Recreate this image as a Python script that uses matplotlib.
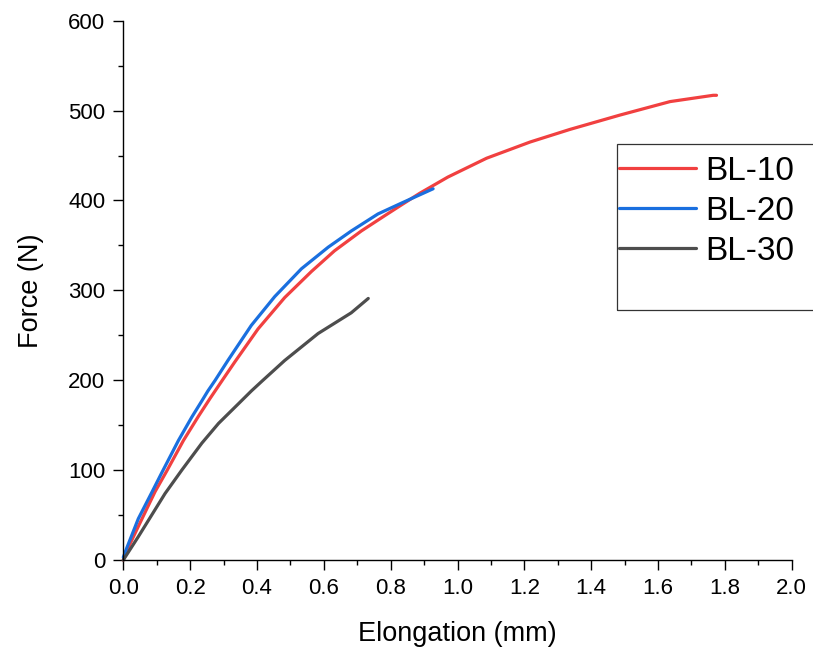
import matplotlib
matplotlib.use("Agg")
import matplotlib.pyplot as plt
from matplotlib.patches import Rectangle
from matplotlib.ticker import MultipleLocator, FormatStrFormatter

plt.rcParams['font.family'] = ['Liberation Sans', 'DejaVu Sans']

# Data
bl10_x = [0, 0.015, 0.06, 0.095, 0.13, 0.18, 0.225, 0.26, 0.30, 0.333, 0.403, 0.483,
          0.563, 0.632, 0.712, 0.782, 0.832, 0.887, 0.971, 1.087, 1.217, 1.336,
          1.486, 1.636, 1.765, 1.775]
bl10_y = [0, 14, 49, 76, 99, 133, 160, 180, 202, 220, 257, 292,
          321, 344, 366, 383, 395, 408, 426, 447, 465, 479,
          495, 510, 517, 517]

bl20_x = [0, 0.01, 0.045, 0.085, 0.115, 0.165, 0.205, 0.235, 0.253, 0.275, 0.313,
          0.383, 0.453, 0.533, 0.613, 0.682, 0.762, 0.832, 0.927]
bl20_y = [3, 13, 46, 75, 97, 133, 159, 177, 188, 200, 222,
          261, 293, 324, 348, 366, 385, 397, 413]

bl30_x = [0, 0.045, 0.085, 0.125, 0.175, 0.235, 0.285, 0.345, 0.383, 0.415, 0.483,
          0.583, 0.682, 0.733]
bl30_y = [0, 26, 50, 74, 100, 130, 152, 174, 188, 199, 222,
          252, 275, 291]

labels = ["BL-10", "BL-20", "BL-30"]
colors = ["#F14040", "#1A6FDF", "#4D4D4D"]

W, H = 813, 648
fig = plt.figure(figsize=(W / 100, H / 100), dpi=100)
ax = fig.add_axes([123.3 / W, 1 - 560 / H, (791.7 - 123.3) / W, (560 - 20.7) / H])

lines = []
for xs, ys, lab, c in zip([bl10_x, bl20_x, bl30_x], [bl10_y, bl20_y, bl30_y], labels, colors):
    ln, = ax.plot(xs, ys, color=c, lw=2.3, label=lab, solid_capstyle='round',
                  solid_joinstyle='round', clip_on=False)
    lines.append(ln)

ax.set_xlim(0, 2.0)
ax.set_ylim(0, 600)
ax.xaxis.set_major_locator(MultipleLocator(0.2))
ax.xaxis.set_minor_locator(MultipleLocator(0.1))
ax.yaxis.set_major_locator(MultipleLocator(100))
ax.yaxis.set_minor_locator(MultipleLocator(50))
ax.xaxis.set_major_formatter(FormatStrFormatter('%.1f'))

for s in ['top', 'right']:
    ax.spines[s].set_visible(False)
for s in ['left', 'bottom']:
    ax.spines[s].set_linewidth(1.0)
    ax.spines[s].set_color('black')

ax.tick_params(which='major', direction='out', length=7, width=1.0, labelsize=16, pad=6)
ax.tick_params(which='minor', direction='out', length=3.6, width=1.0)
ax.tick_params(axis='x', which='major', pad=6)

ax.set_xlabel("Elongation (mm)", fontsize=19.5)
ax.set_ylabel("Force (N)", fontsize=19.5)
ax.xaxis.set_label_coords(0.5, -0.113)
ax.yaxis.set_label_coords(-0.119, 0.5)

leg = fig.legend(handles=lines, labels=labels, loc='upper left',
                 bbox_to_anchor=(619 / W, 1 - 156 / H), frameon=False,
                 fontsize=24, handlelength=2.3, handletextpad=0.3,
                 labelspacing=0.27, borderpad=0, borderaxespad=0)

fig.patches.append(Rectangle((617 / W, 1 - 310 / H), 0.3, 166 / H,
                             transform=fig.transFigure, fill=False,
                             edgecolor='#333333', linewidth=0.9))

fig.savefig("out.png", dpi=100)
